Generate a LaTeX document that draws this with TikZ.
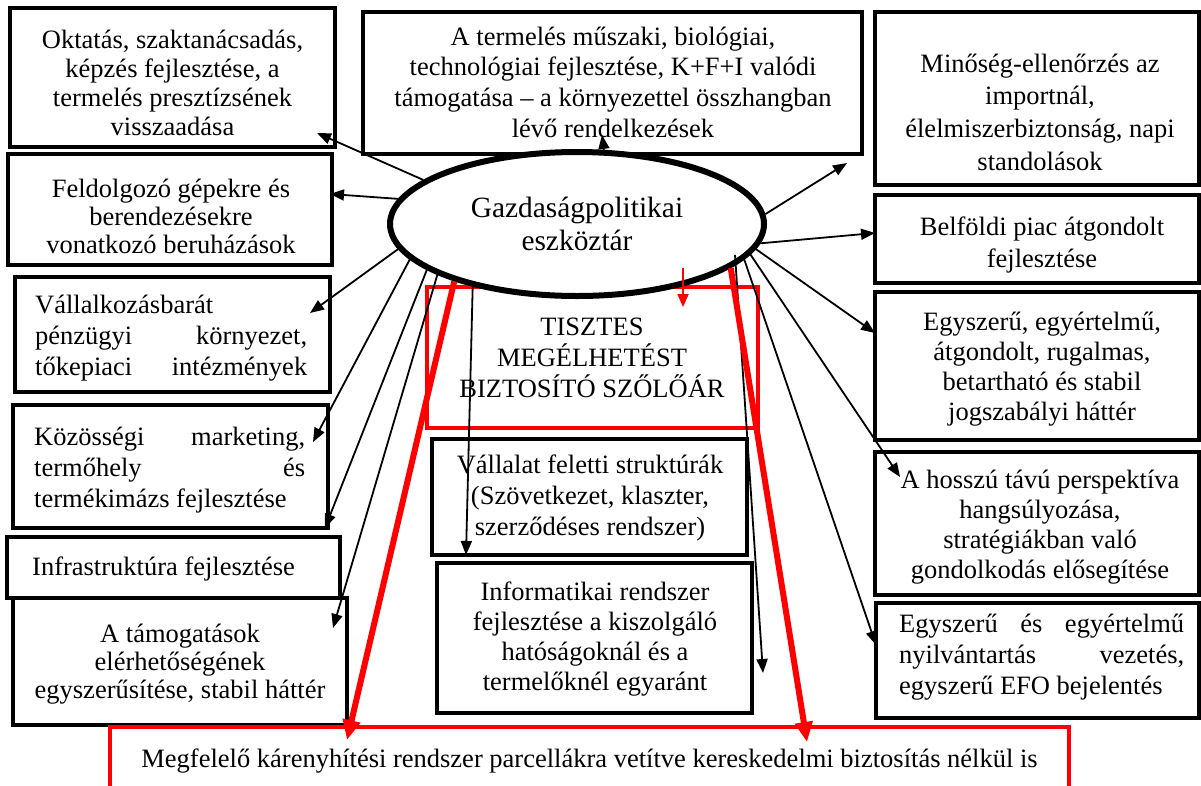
\documentclass[tikz,border=0pt]{standalone}
\usepackage{fontspec}
\setmainfont{Liberation Serif}
\usetikzlibrary{arrows.meta,shapes.geometric}
\newcommand{\mystr}{\rule{0pt}{26pt}}
\begin{document}
\begin{tikzpicture}[x=1pt,y=-1pt,
  box/.style={draw=black,line width=3.5pt,inner sep=0pt},
  rbox/.style={draw=red,line width=3.5pt,inner sep=0pt},
  lbl/.style={inner sep=0pt,anchor=north,align=center,font=\fontsize{26.5}{#1}\selectfont},
  lbl/.default=30,
  jlbl/.style={inner sep=0pt,anchor=north west,align=left,font=\fontsize{26.5}{#1}\selectfont},
  jlbl/.default=31,
  conn/.style={line width=1.8pt,-{Triangle[length=14pt,width=11pt]}},
  rsmall/.style={draw=red,line width=1.8pt,-{Triangle[length=13pt,width=11pt]}},
  rconn/.style={draw=red,line width=6pt,-{Triangle[length=20pt,width=17pt]}},
]
\useasboundingbox (0,0) rectangle (1201,785);

% boxes
\node[box,minimum width=325,minimum height=139] (b1) at (172.5,77.5) {};
\node[box,minimum width=324,minimum height=111] (b2) at (170,209.5) {};
\node[box,minimum width=315,minimum height=115] (b3) at (172.5,334.5) {};
\node[box,minimum width=315,minimum height=123] (b4) at (170.5,466.5) {};
\node[box,minimum width=333,minimum height=61] (b5) at (173.5,567.5) {};
\node[box,minimum width=334,minimum height=127] (b6) at (180,661.5) {};
\node[box,minimum width=499,minimum height=142] (top) at (612.5,83) {};
\node[box,minimum width=324,minimum height=173] (r1) at (1037,98.5) {};
\node[box,minimum width=324,minimum height=88] (r2) at (1037,239) {};
\node[box,minimum width=324,minimum height=148] (r3) at (1037,366) {};
\node[box,minimum width=324,minimum height=143] (r4) at (1037,523.5) {};
\node[box,minimum width=323,minimum height=115] (r5) at (1037.5,660.5) {};
\node[rbox,minimum width=331,minimum height=141] (tisz) at (592.5,357.5) {};
\node[box,minimum width=315,minimum height=116] (vall) at (589.5,497) {};
\node[box,minimum width=315,minimum height=150] (info) at (594.5,638) {};
\node[rbox,minimum width=959,minimum height=76] (bot) at (589.5,765) {};

% central ellipse
\node[ellipse,draw=black,fill=white,line width=6pt,minimum width=374,minimum height=144,inner sep=0pt,align=center,font=\fontsize{29.4}{33}\selectfont] (ell) at (577,224) {Gazdaságpolitikai\\eszköztár};

% texts
\node[lbl=29] (t1) at (172.5,22) {\mystr Oktatás, szaktanácsadás,\\képzés fejlesztése, a\\termelés presztízsének\\visszaadása};
\node[lbl=28] (t2) at (171,171) {\mystr Feldolgozó gépekre és\\berendezésekre\\vonatkozó beruházások};
\node[jlbl=31] (t3) at (35,287) {\mystr Vállalkozásbarát\\\makebox[272pt][s]{pénzügyi környezet,}\\\makebox[272pt][s]{tőkepiaci intézmények}};
\node[jlbl=31] (t4) at (34,419) {\mystr\makebox[271pt][s]{Közösségi marketing,}\\\makebox[271pt][s]{termőhely és}\\termékimázs fejlesztése};
\node[jlbl=31] (t5) at (32,549) {\mystr Infrastruktúra fejlesztése};
\node[lbl=28] (t6) at (180,616) {\mystr A támogatások\\elérhetőségének\\egyszerűsítése, stabil háttér};
\node[lbl=30.7] (ttop) at (613,19) {\mystr A termelés műszaki, biológiai,\\technológiai fejlesztése, K+F+I valódi\\támogatása – a környezettel összhangban\\lévő rendelkezések};
\node[lbl=32.7] (tr1) at (1040,46) {\mystr Minőség-ellenőrzés az\\importnál,\\élelmiszerbiztonság, napi\\standolások};
\node[lbl=32] (tr2) at (1042,209) {\mystr Belföldi piac átgondolt\\fejlesztése};
\node[lbl=30] (tr3) at (1042,304) {\mystr Egyszerű, egyértelmű,\\átgondolt, rugalmas,\\betartható és stabil\\jogszabályi háttér};
\node[lbl=30] (tr4) at (1040,462) {\mystr A hosszú távú perspektíva\\hangsúlyozása,\\stratégiákban való\\gondolkodás elősegítése};
\node[jlbl=31] (tr5) at (899,606) {\mystr\makebox[285pt][s]{Egyszerű és egyértelmű}\\\makebox[285pt][s]{nyilvántartás vezetés,}\\egyszerű EFO bejelentés};
\node[lbl=31] (ttisz) at (592,309) {\mystr TISZTES\\MEGÉLHETÉST\\BIZTOSÍTÓ SZŐLŐÁR};
\node[lbl=31] (tvall) at (590,447) {\mystr Vállalat feletti struktúrák\\(Szövetkezet, klaszter,\\szerződéses rendszer)};
\node[lbl=30] (tinfo) at (595,574) {\mystr Informatikai rendszer\\fejlesztése a kiszolgáló\\hatóságoknál és a\\termelőknél egyaránt};
\node[lbl=30] (tbot) at (589.5,741) {\mystr Megfelelő kárenyhítési rendszer parcellákra vetítve kereskedelmi biztosítás nélkül is};

% arrow end points
\coordinate (e1) at (317,133);
\coordinate (e2) at (330,194);
\coordinate (e3) at (310,313);
\coordinate (e4) at (313,442);
\coordinate (e5) at (325,528);
\coordinate (e6) at (333,628);
\coordinate (e7) at (466,555);
\coordinate (etop) at (602,135);
\coordinate (ea) at (847,163);
\coordinate (eb) at (875,233);
\coordinate (ec) at (875,333);
\coordinate (ed) at (900,477);
\coordinate (ee) at (876,645);
\coordinate (fs) at (735,255);
\coordinate (ef) at (763,673);
\coordinate (rs) at (683,268);
\coordinate (rt) at (683,307);
\coordinate (rl) at (347,740);
\coordinate (rr) at (807,742);

% black connectors
\draw[conn] (ell.164.5) -- (e1);
\draw[conn] (ell.172.5) -- (e2);
\draw[conn] (ell.-172.7) -- (e3);
\draw[conn] (ell.192.8) -- (e4);
\draw[conn] (ell.197) -- (e5);
\draw[conn] (ell.200.4) -- (e6);
\draw[conn] (ell.211) -- (e7);
\draw[conn] (ell.70.6) -- (etop);
\draw[conn] (ell.3.4) -- (ea);
\draw[conn] (ell.-6.6) -- (eb);
\draw[conn] (ell.-8.2) -- (ec);
\draw[conn] (ell.-10) -- (ed);
\draw[conn] (ell.-12.1) -- (ee);
\draw[conn] (fs) -- (ef);

% red connectors
\draw[rsmall] (rs) -- (rt);
\draw[rconn] (ell.205.3) -- (rl);
\draw[rconn] (ell.-16.8) -- (rr);
\end{tikzpicture}
\end{document}
